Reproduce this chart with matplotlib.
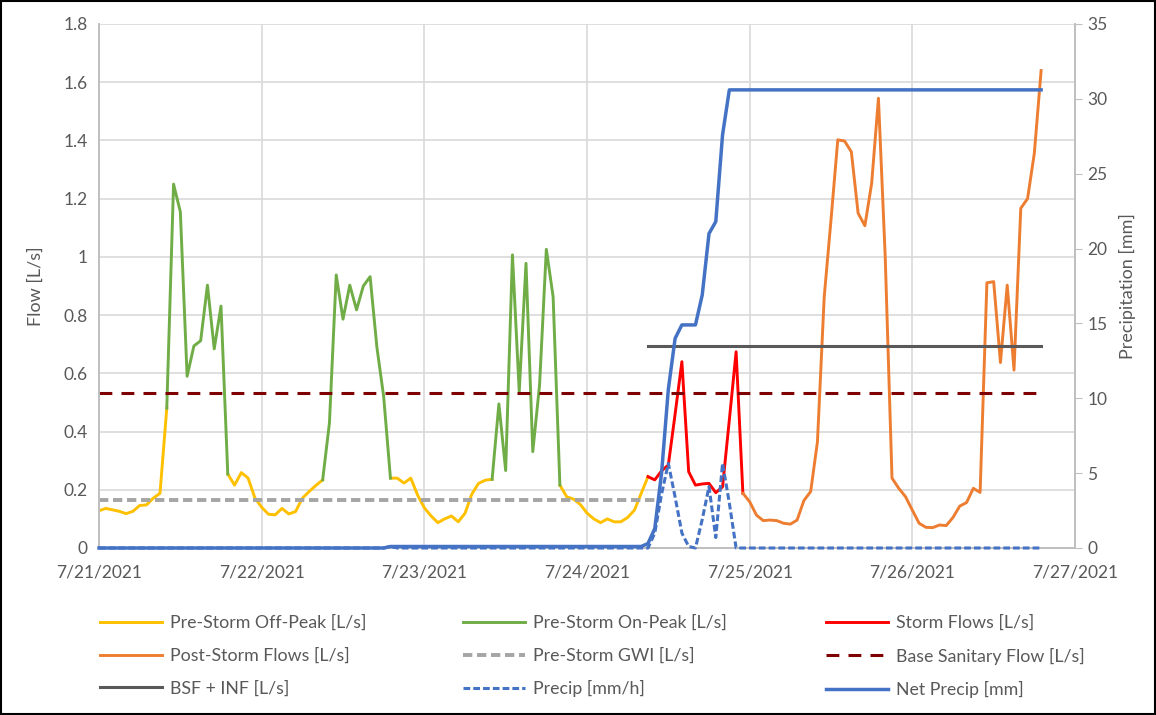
import numpy as np
import matplotlib
matplotlib.use("Agg")
import matplotlib.pyplot as plt
from matplotlib.lines import Line2D
from matplotlib.patches import Rectangle
from matplotlib.ticker import FuncFormatter

plt.rcParams['font.family'] = ['Lato', 'DejaVu Sans']

# hourly flow [L/s], hour 0 = 7/21/2021 00:00
flow = [
    0.128, 0.136, 0.131, 0.126, 0.118, 0.126, 0.146, 0.148, 0.171, 0.188,   # h0-9
    0.48, 1.25, 1.155, 0.59, 0.694, 0.712, 0.903, 0.684, 0.831, 0.254,     # h10-19
    0.216, 0.259, 0.24, 0.172, 0.14, 0.116, 0.114, 0.136, 0.117, 0.125,    # h20-29
    0.171, 0.194, 0.215, 0.234, 0.43, 0.938, 0.786, 0.903, 0.818, 0.9,     # h30-39
    0.932, 0.69, 0.52, 0.24, 0.24, 0.223, 0.24, 0.182, 0.138, 0.11,        # h40-49
    0.087, 0.1, 0.11, 0.09, 0.119, 0.185, 0.222, 0.233, 0.236, 0.495,      # h50-59
    0.266, 1.007, 0.537, 0.978, 0.331, 0.56, 1.026, 0.863, 0.216, 0.176,   # h60-69
    0.168, 0.15, 0.12, 0.1, 0.087, 0.1, 0.09, 0.09, 0.105, 0.13,           # h70-79
    0.188, 0.245, 0.234, 0.265, 0.285, 0.46, 0.64, 0.262, 0.216, 0.22,     # h80-89
    0.222, 0.19, 0.21, 0.44, 0.674, 0.188, 0.159, 0.113, 0.094, 0.096,     # h90-99
    0.094, 0.085, 0.082, 0.096, 0.163, 0.194, 0.365, 0.863, 1.127, 1.402,  # h100-109
    1.398, 1.361, 1.15, 1.107, 1.253, 1.545, 1.0, 0.24, 0.205, 0.176,      # h110-119
    0.13, 0.085, 0.071, 0.07, 0.079, 0.077, 0.105, 0.144, 0.156, 0.205,    # h120-129
    0.191, 0.911, 0.915, 0.637, 0.903, 0.611, 1.167, 1.2, 1.356, 1.64,     # h130-139
]

# hour ranges of each flow category (start, end inclusive)
offpeak_ranges = [(0, 10), (19, 33), (43, 58), (68, 81)]
onpeak_ranges = [(10, 19), (33, 43), (58, 68)]
storm_ranges = [(81, 95)]
post_ranges = [(95, 139)]

gwi_hours, gwi_value = [0, 82], 0.166
bsf_hours, bsf_value = [0, 139], 0.533
bsf_inf_hours, bsf_inf_value = [81, 139], 0.695

# precipitation on secondary axis
precip_hours = [0, 42, 43, 44, 81, 82, 83, 84, 85, 86, 87, 88, 89, 90, 91, 92, 93, 94, 139]
precip_mmh = [0, 0, 0.1, 0, 0, 1.0, 3.6, 5.65, 3.4, 1.0, 0.1, 0, 1.9, 4.1, 0.7, 5.65, 3.0, 0, 0]
net_hours = [0, 42, 43, 80, 81, 82, 83, 84, 85, 86, 87, 88, 89, 90, 91, 92, 93, 139]
net_precip = [0, 0, 0.1, 0.1, 0.3, 1.3, 5.0, 10.6, 14.0, 14.9, 14.9, 14.9, 16.9, 21.0, 21.8, 27.6, 30.6, 30.6]

day_labels = ['7/21/2021', '7/22/2021', '7/23/2021', '7/24/2021', '7/25/2021', '7/26/2021', '7/27/2021']

c_off = '#FFC000'
c_on = '#70AD47'
c_storm = '#FF0000'
c_post = '#ED7D31'
c_gwi = '#A5A5A5'
c_bsf = '#7F0000'
c_inf = '#595959'
c_blue = '#4472C4'
txt = '#595959'

fig = plt.figure(figsize=(11.56, 7.15), dpi=100)
ax = fig.add_axes([99 / 1156, 1 - 548 / 715, (1075 - 99) / 1156, (548 - 24) / 715])
ax2 = ax.twinx()

flow = np.array(flow)
hrs = np.arange(len(flow))
lw = 2.1

def draw(ranges, color):
    for a, b in ranges:
        ax.plot(hrs[a:b + 1], flow[a:b + 1], color=color, lw=lw, solid_joinstyle='round')

draw(offpeak_ranges, c_off)
draw(onpeak_ranges, c_on)
draw(storm_ranges, c_storm)
draw(post_ranges, c_post)
ax.plot(gwi_hours, [gwi_value] * 2, color=c_gwi, lw=2.8, dashes=(2.4, 1.2))
ax.plot(bsf_hours, [bsf_value] * 2, color=c_bsf, lw=2.2, dashes=(4.2, 3.0))
ax.plot(bsf_inf_hours, [bsf_inf_value] * 2, color=c_inf, lw=2.2)

# secondary axis lines sit above the spines so the zero baseline shows
ax2.plot(net_hours, net_precip, color=c_blue, lw=2.5, clip_on=False, zorder=4)
ax2.plot(precip_hours, precip_mmh, color=c_blue, lw=2.2, dashes=(2.2, 1.0),
         clip_on=False, zorder=4)

ax.set_xlim(0, 144)
ax.set_ylim(0, 1.8)
ax2.set_ylim(0, 35)
ax.set_xticks(np.arange(0, 145, 24))
ax.set_xticklabels(day_labels)
ax.set_yticks(np.arange(0, 1.81, 0.2))
ax.yaxis.set_major_formatter(FuncFormatter(lambda v, p: f"{v:g}"))
ax2.set_yticks(np.arange(0, 36, 5))

ax.grid(True, color='#D9D9D9', lw=1.2)
ax.set_axisbelow(True)
for a in (ax, ax2):
    for s in a.spines.values():
        s.set_color('#BFBFBF')
        s.set_linewidth(1.2)
    a.spines['top'].set_visible(False)
ax.tick_params(axis='both', length=0, labelsize=12.5, labelcolor=txt, pad=8)
ax.tick_params(axis='x', pad=12)
ax2.tick_params(axis='y', length=5, color='#BFBFBF', labelsize=12.5, labelcolor=txt, pad=4)
ax.set_ylabel('Flow [L/s]', fontsize=13, color=txt, labelpad=14)
ax2.set_ylabel('Precipitation [mm]', fontsize=13, color=txt, labelpad=8)

# legend, three columns placed by hand
entries = [
    ('Pre-Storm Off-Peak [L/s]', dict(color=c_off, lw=lw)),
    ('Pre-Storm On-Peak [L/s]', dict(color=c_on, lw=lw)),
    ('Storm Flows [L/s]', dict(color=c_storm, lw=lw)),
    ('Post-Storm Flows [L/s]', dict(color=c_post, lw=lw)),
    ('Pre-Storm GWI [L/s]', dict(color=c_gwi, lw=2.8, dashes=(2.4, 1.2))),
    ('Base Sanitary Flow [L/s]', dict(color=c_bsf, lw=2.2, dashes=(4.2, 3.0))),
    ('BSF + INF [L/s]', dict(color=c_inf, lw=2.2)),
    ('Precip [mm/h]', dict(color=c_blue, lw=2.2, dashes=(2.2, 1.0))),
    ('Net Precip [mm]', dict(color=c_blue, lw=2.5)),
]
col_x = [100, 463, 826]
for col in range(3):
    items = entries[col::3]
    handles = [Line2D([], [], **kw) for _, kw in items]
    labels = [name for name, _ in items]
    fig.legend(handles, labels, loc='upper left',
               bbox_to_anchor=(col_x[col] / 1156, 1 - 615 / 715),
               frameon=False, fontsize=12.8, labelcolor=txt,
               handlelength=3.5, handletextpad=0.45, borderpad=0,
               borderaxespad=0, labelspacing=0.92)

fig.patches.append(Rectangle((0.001, 0.002), 0.998, 0.996, transform=fig.transFigure,
                             fill=False, ec='black', lw=1.5))

fig.savefig('out.png', dpi=100)
